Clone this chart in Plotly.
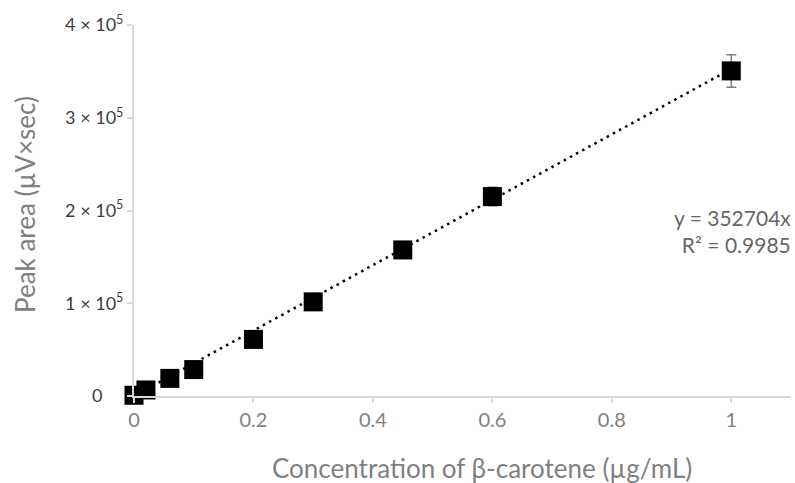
import plotly.graph_objects as go

conc = [0.0, 0.02, 0.06, 0.1, 0.2, 0.3, 0.45, 0.6, 1.0]
peak_area = [800, 6500, 19000, 28500, 61000, 101500, 157500, 215000, 350500]
err = [1500, 2000, 2500, 3000, 4000, 4500, 5000, 10000, 17500]

slope = 352704
trend_x = [0.0, 1.0]
trend_y = [slope * v for v in trend_x]

y_tickvals = [0, 100000, 200000, 300000, 400000]
y_ticktext = ["0\u2007\u2007", "1 \u00d7 10<sup>5</sup>", "2 \u00d7 10<sup>5</sup>",
              "3 \u00d7 10<sup>5</sup>", "4 \u00d7 10<sup>5</sup>"]
x_tickvals = [0, 0.2, 0.4, 0.6, 0.8, 1.0]
x_ticktext = ["0", "0.2", "0.4", "0.6", "0.8", "1"]

x_title = "Concentration of \u03b2-carotene (\u00b5g/mL)"
y_title = "Peak area (\u00b5V\u00d7sec)"

FONT = "Lato"
AXIS_COL = "#d9d9d9"

fig = go.Figure()
fig.add_trace(go.Scatter(
    x=trend_x, y=trend_y, mode="lines",
    line=dict(color="black", width=2.5, dash="2.5px,4.5px"),
    hoverinfo="skip", showlegend=False,
))
fig.add_trace(go.Scatter(
    x=conc, y=peak_area, mode="markers",
    marker=dict(symbol="square", size=19, color="black"),
    error_y=dict(type="data", array=err, visible=True, color="#7f7f7f", thickness=1.5, width=5),
    cliponaxis=False, showlegend=False,
))

fig.add_annotation(
    x=1.0, xref="paper", y=(396 - 231) / (396 - 25), yref="paper", yanchor="middle",
    text="y = 352704x<br>R\u00b2 = 0.9985", showarrow=False, align="right",
    xanchor="right", xshift=2, font=dict(family=FONT, size=21, color="#666666"),
)
# axis titles placed as annotations to match reference positions
fig.add_annotation(
    x=(481.5 - 134) / (791 - 134), xref="paper", y=-(468 - 396) / (396 - 25), yref="paper",
    xanchor="center", yanchor="middle", text=x_title, showarrow=False,
    font=dict(family=FONT, size=26, color="#808080"),
)
fig.add_annotation(
    x=(25 - 134) / (791 - 134), xref="paper", y=(396 - 205) / (396 - 25), yref="paper",
    xanchor="center", yanchor="middle", text=y_title, showarrow=False, textangle=-90,
    font=dict(family=FONT, size=26, color="#808080"),
)

fig.update_layout(
    width=795, height=483,
    margin=dict(l=134, r=4, t=25, b=87),
    plot_bgcolor="white", paper_bgcolor="white",
    font=dict(family=FONT),
    xaxis=dict(
        range=[0, 1.1], tickvals=x_tickvals, ticktext=x_ticktext,
        showgrid=False, zeroline=False, showline=True, linecolor=AXIS_COL, linewidth=2,
        ticks="outside", ticklen=5, tickcolor=AXIS_COL, tickwidth=2,
        tickfont=dict(family=FONT, size=20, color="#808080"),
    ),
    yaxis=dict(
        range=[0, 400000], tickvals=y_tickvals, ticktext=y_ticktext,
        showgrid=False, zeroline=False, showline=True, linecolor=AXIS_COL, linewidth=2,
        ticks="outside", ticklen=5, tickcolor=AXIS_COL, tickwidth=2,
        tickfont=dict(family=FONT, size=18, color="#404040"),
    ),
)

fig.write_html("out.html")
